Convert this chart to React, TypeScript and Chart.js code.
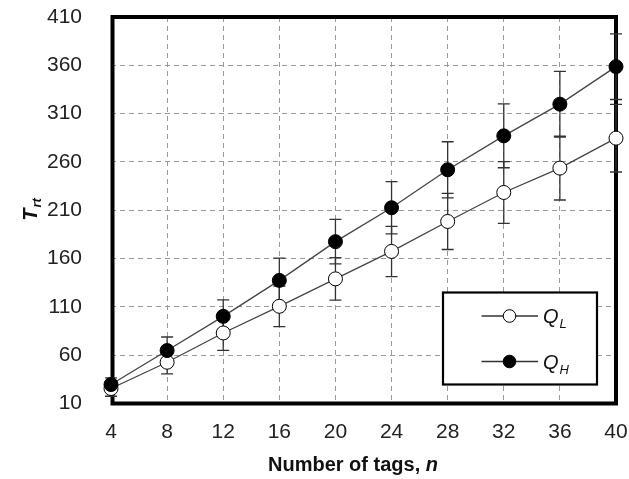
import { useEffect, useRef } from 'react';
import { Chart, registerables } from 'chart.js';

Chart.register(...registerables);

const nTags = [4, 8, 12, 16, 20, 24, 28, 32, 36, 40];
const qLowMean = [25.5, 52.7, 83, 110.6, 139, 167.4, 198.4, 228.4, 253.6, 284.6];
const qLowErr = [8, 12, 18, 21, 22, 26, 29, 32, 33, 35];
const qHighMean = [29.6, 64.8, 100.2, 137.4, 177.5, 212.6, 251.9, 287, 319.8, 358.6];
const qHighErr = [7, 14, 17, 23, 23, 27, 29, 33, 34, 34];
const yTickValues = [10, 60, 110, 160, 210, 260, 310, 360, 410];
const xTickValues = [4, 8, 12, 16, 20, 24, 28, 32, 36, 40];

const FONT = '"Liberation Sans", Arial, sans-serif';

const errorBarPlugin = {
  id: 'errorBars',
  beforeDatasetsDraw(chart: any) {
    const { ctx, chartArea: a, scales } = chart;
    ctx.save();
    ctx.strokeStyle = '#000';
    ctx.lineWidth = 4;
    ctx.strokeRect(a.left + 1.5, a.top, a.right - a.left - 1.5, a.bottom - a.top);
    ctx.restore();
    const sets = [
      { mean: qLowMean, err: qLowErr },
      { mean: qHighMean, err: qHighErr },
    ];
    ctx.save();
    ctx.strokeStyle = '#333';
    ctx.lineWidth = 1.3;
    sets.forEach((s) => {
      nTags.forEach((n, i) => {
        const x = scales.x.getPixelForValue(n);
        const yTop = scales.y.getPixelForValue(s.mean[i] + s.err[i]);
        const yBot = scales.y.getPixelForValue(s.mean[i] - s.err[i]);
        ctx.beginPath();
        ctx.moveTo(x, yTop);
        ctx.lineTo(x, yBot);
        ctx.moveTo(x - 6, yTop);
        ctx.lineTo(x + 6, yTop);
        ctx.moveTo(x - 6, yBot);
        ctx.lineTo(x + 6, yBot);
        ctx.stroke();
      });
    });
    ctx.restore();
  },
  afterDraw(chart: any) {
    const { ctx, chartArea: a } = chart;
    ctx.save();
    const lx = a.right - 173;
    const ly = a.bottom - 111;
    const lw = 154;
    const lh = 92;
    ctx.fillStyle = '#fff';
    ctx.fillRect(lx, ly, lw, lh);
    ctx.strokeStyle = '#000';
    ctx.lineWidth = 2.2;
    ctx.strokeRect(lx, ly, lw, lh);
    const rows = [
      { label: 'Q', sub: 'L', fill: '#fff', dy: 23.5 },
      { label: 'Q', sub: 'H', fill: '#000', dy: 69 },
    ];
    rows.forEach((r) => {
      const y = ly + r.dy;
      ctx.strokeStyle = '#333';
      ctx.lineWidth = 1.3;
      ctx.beginPath();
      ctx.moveTo(lx + 38.5, y);
      ctx.lineTo(lx + 95, y);
      ctx.stroke();
      ctx.beginPath();
      ctx.arc(lx + 66.5, y, 6.3, 0, Math.PI * 2);
      ctx.fillStyle = r.fill;
      ctx.fill();
      ctx.strokeStyle = '#000';
      ctx.lineWidth = 1;
      ctx.stroke();
      ctx.fillStyle = '#111';
      ctx.textBaseline = 'alphabetic';
      ctx.textAlign = 'left';
      ctx.font = `italic 20px ${FONT}`;
      ctx.fillText(r.label, lx + 100, y + 7);
      const qw = ctx.measureText(r.label).width;
      ctx.font = `italic 13px ${FONT}`;
      ctx.fillText(r.sub, lx + 101 + qw, y + 12);
    });

    ctx.fillStyle = '#111';
    ctx.textBaseline = 'middle';
    ctx.font = `bold 20px ${FONT}`;
    const t1 = 'Number of tags, ';
    const w1 = ctx.measureText(t1).width;
    ctx.font = `bold italic 20px ${FONT}`;
    const w2 = ctx.measureText('n').width;
    const startX = 353 - (w1 + w2) / 2;
    ctx.textAlign = 'left';
    ctx.font = `bold 20px ${FONT}`;
    ctx.fillText(t1, startX, 465);
    ctx.font = `bold italic 20px ${FONT}`;
    ctx.fillText('n', startX + w1, 465);

    ctx.translate(30, 210);
    ctx.rotate(-Math.PI / 2);
    ctx.font = `bold italic 20px ${FONT}`;
    const tw = ctx.measureText('T').width;
    ctx.font = `bold italic 13px ${FONT}`;
    const sw = ctx.measureText('rt').width;
    const sx = -(tw + sw) / 2;
    ctx.textBaseline = 'alphabetic';
    ctx.font = `bold italic 20px ${FONT}`;
    ctx.fillText('T', sx, 7);
    ctx.font = `bold italic 13px ${FONT}`;
    ctx.fillText('rt', sx + tw + 1, 11);
    ctx.restore();
  },
};

const zeroPad = (s: any) => {
  s.paddingTop = 0;
  s.paddingBottom = 0;
  s.paddingLeft = 0;
  s.paddingRight = 0;
};

export default function App() {
  const ref = useRef<HTMLCanvasElement | null>(null);
  useEffect(() => {
    document.body.style.margin = '0';
    const canvas = ref.current;
    if (!canvas) return;
    const chart = new Chart(canvas, {
      type: 'line',
      data: {
        datasets: [
          {
            label: 'Q_L',
            data: nTags.map((n, i) => ({ x: n, y: qLowMean[i] })),
            borderColor: '#444',
            borderWidth: 1.3,
            pointRadius: 7,
            pointBackgroundColor: '#fff',
            pointBorderColor: '#000',
            pointBorderWidth: 1,
            order: 2,
            clip: false as any,
          },
          {
            label: 'Q_H',
            data: nTags.map((n, i) => ({ x: n, y: qHighMean[i] })),
            borderColor: '#444',
            borderWidth: 1.3,
            pointRadius: 7,
            pointBackgroundColor: '#000',
            pointBorderColor: '#000',
            pointBorderWidth: 1,
            order: 1,
            clip: false as any,
          },
        ],
      },
      options: {
        animation: false,
        responsive: false,
        events: [],
        layout: { autoPadding: false, padding: { top: 17, right: 13, left: 0, bottom: 0 } },
        plugins: { legend: { display: false }, tooltip: { enabled: false } },
        scales: {
          x: {
            type: 'linear',
            min: 4,
            max: 40,
            afterBuildTicks: (s: any) => {
              s.ticks = xTickValues.map((v) => ({ value: v }));
            },
            afterFit: (s: any) => {
              s.height = 75.5;
              zeroPad(s);
            },
            border: { display: false, dash: [5, 4] },
            grid: { color: '#9a9a9a', lineWidth: 1, drawTicks: false },
            ticks: {
              padding: 16,
              maxRotation: 0,
              color: '#222',
              font: { family: FONT, size: 21 },
            },
          },
          y: {
            type: 'linear',
            min: 10,
            max: 410,
            afterBuildTicks: (s: any) => {
              s.ticks = yTickValues.map((v) => ({ value: v }));
            },
            afterFit: (s: any) => {
              s.width = 111;
              zeroPad(s);
            },
            border: { display: false, dash: [5, 4] },
            grid: { color: '#9a9a9a', lineWidth: 1, drawTicks: false },
            ticks: {
              padding: 29,
              color: '#222',
              font: { family: FONT, size: 21 },
            },
          },
        },
      } as any,
      plugins: [errorBarPlugin],
    });
    return () => chart.destroy();
  }, []);
  return <canvas ref={ref} width={629} height={479} style={{ display: 'block' }} />;
}
